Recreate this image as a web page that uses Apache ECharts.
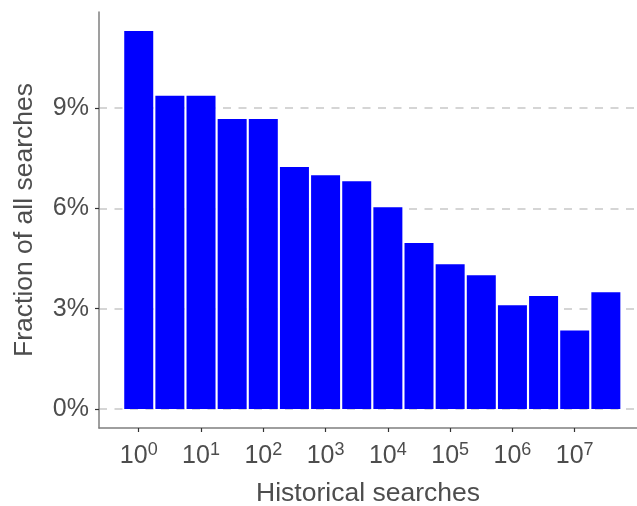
<!DOCTYPE html>
<html>
<head>
<meta charset="utf-8">
<script src="https://cdn.jsdelivr.net/npm/echarts@6/dist/echarts.min.js"></script>
<style>
  html, body { margin: 0; padding: 0; background: #fff; }
  #chart { width: 637px; height: 506px; }
</style>
</head>
<body>
<div id="chart"></div>
<script>
// log10 of the bin centres (historical searches)
const binLog10 = [0, 0.5, 1, 1.5, 2, 2.5, 3, 3.5, 4, 4.5, 5, 5.5, 6, 6.5, 7, 7.5]
// fraction of all searches, in %
const fraction = [11.30, 9.36, 9.36, 8.67, 8.67, 7.23, 6.99, 6.81, 6.03, 4.96, 4.33, 4.00, 3.10, 3.38, 2.35, 3.49]
const xTicks = [0, 1, 2, 3, 4, 5, 6, 7]
const yTicks = [0, 3, 6, 9]

const FONT = 'Liberation Sans, Arial, sans-serif'
const chart = echarts.init(document.getElementById('chart'))

chart.setOption({
  animation: false,
  grid: { left: 99, right: 0, top: 12, bottom: 78, outerBoundsMode: 'none', containLabel: false },
  xAxis: {
    type: 'value',
    min: -0.638,
    max: 8.0,
    name: 'Historical searches',
    nameLocation: 'middle',
    nameGap: 52,
    nameTextStyle: { fontFamily: FONT, fontSize: 26.5, color: '#4d4d4d' },
    axisLine: { show: true, onZero: false, lineStyle: { color: '#7f7f7f', width: 1.5 } },
    axisTick: { show: true, length: 4, customValues: xTicks, lineStyle: { color: '#333', width: 1.2 } },
    axisLabel: {
      customValues: xTicks,
      margin: 13,
      formatter: v => '{b|10}{s|' + v + '}',
      rich: {
        b: { fontFamily: FONT, fontSize: 25, color: '#4d4d4d', lineHeight: 30 },
        s: { fontFamily: FONT, fontSize: 18, color: '#4d4d4d', lineHeight: 18, verticalAlign: 'top' }
      }
    },
    splitLine: { show: false }
  },
  yAxis: {
    type: 'value',
    min: -0.565,
    max: 11.865,
    name: 'Fraction of all searches',
    nameLocation: 'middle',
    nameGap: 61,
    nameTextStyle: { fontFamily: FONT, fontSize: 26.5, color: '#4d4d4d' },
    axisLine: { show: true, onZero: false, lineStyle: { color: '#7f7f7f', width: 1.5 } },
    axisTick: { show: true, length: 4, customValues: yTicks, lineStyle: { color: '#333', width: 1.2 } },
    axisLabel: {
      customValues: yTicks,
      margin: 10,
      formatter: v => v + '%',
      fontFamily: FONT, fontSize: 25, color: '#4d4d4d'
    },
    splitLine: { show: true, lineStyle: { color: '#c8c8c8', width: 1.5, type: [8, 7.5] } }
  },
  series: [{
    type: 'bar',
    data: binLog10.map((x, i) => [x, fraction[i]]),
    barWidth: 29,
    itemStyle: { color: '#0000ff' }
  }]
})
</script>
</body>
</html>
